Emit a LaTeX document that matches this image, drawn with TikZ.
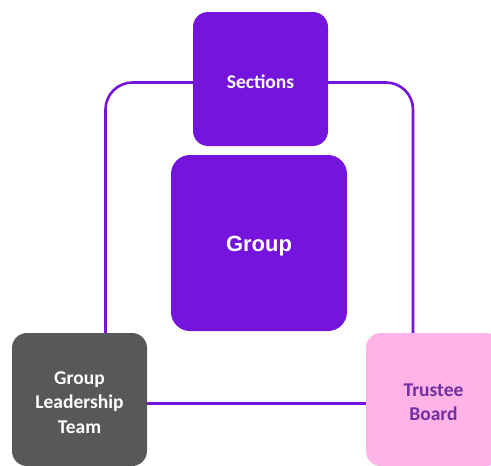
\documentclass[tikz,border=0pt]{standalone}
\usepackage{fontspec}
\setmainfont{Carlito}
\newfontfamily\arialfont{Liberation Sans}
\usetikzlibrary{backgrounds}
\definecolor{boxpurple}{HTML}{7514DC}
\definecolor{boxgray}{HTML}{58585A}
\definecolor{boxpink}{HTML}{FFB3E6}
\definecolor{textpurple}{HTML}{7030A0}
\tikzset{
  card/.style={rectangle, rounded corners=15pt, inner sep=0pt,
    minimum width=135pt, minimum height=134pt},
  cardtext/.style={inner sep=0pt, align=center, font=\fontsize{19.5}{24.5}\selectfont\bfseries},
  loopline/.style={draw=boxpurple, line width=2.6pt, rounded corners=27pt},
}
\begin{document}
\begin{tikzpicture}[x=1pt,y=-1pt]
\useasboundingbox (0,0) rectangle (491,466);
\clip (0,0) rectangle (491,466);
\node[card, fill=boxpurple] (sec) at (260.5,79) {};
\node[cardtext, text=white] (secT) at ([yshift=-2.5pt]sec.center) {Sections};
\node[card, fill=boxpurple, rounded corners=19pt, minimum width=176pt, minimum height=176pt] (grp) at (259,243) {};
\node[cardtext, text=white, font=\arialfont\fontsize{22}{26}\selectfont\bfseries] (grpT) at ([yshift=-3pt]grp.center) {Group};
\node[card, fill=boxgray, minimum height=133pt] (glt) at (79.5,399.5) {};
\node[cardtext, text=white] (gltT) at ([yshift=-3pt]glt.center) {Group\\Leadership\\Team};
\node[card, fill=boxpink, minimum height=133pt] (tb) at (433.5,399.5) {};
\node[cardtext, text=textpurple] (tbT) at ([yshift=-2.5pt]tb.center) {Trustee\\Board};
\coordinate (tl) at (105.5,82.5);
\coordinate (br) at (413,403.5);
\begin{scope}[on background layer]
\draw[loopline] (sec.center |- tl) -| (tl |- glt.north) -- (tl |- br) -- (glt.center |- br) -- (tb.center |- br) -| (br |- tb.north) -- (br |- tl) -- (sec.center |- tl);
\end{scope}
\end{tikzpicture}
\end{document}
